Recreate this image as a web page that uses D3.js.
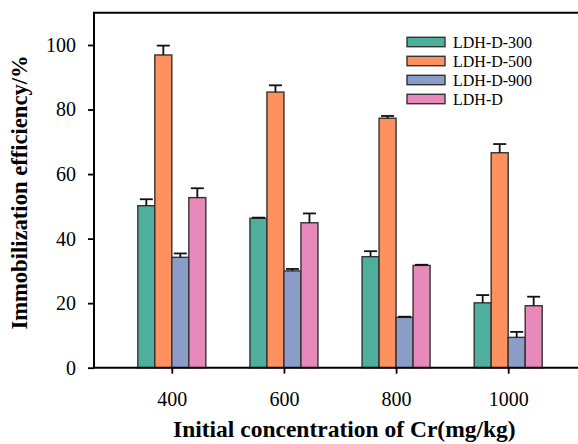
<!DOCTYPE html>
<html lang="en">
<head>
  <meta charset="UTF-8">
  <title>Immobilization efficiency vs initial Cr concentration</title>
  <script src="https://d3js.org/d3.v7.min.js"></script>
  <style>
    body { margin: 0; background: white; }
    svg { display: block; overflow: hidden; }
    text { font-family: "Liberation Serif", "Times New Roman", serif; fill: #000; }
    .axis-title { font-weight: bold; }
  </style>
</head>
<body>
  <svg width="578" height="444"></svg>
  <script>
    // data
    const concentrations = ["400", "600", "800", "1000"];
    const seriesNames = ["LDH-D-300", "LDH-D-500", "LDH-D-900", "LDH-D"];
    const ldh300 = [50.2, 46.3, 34.4, 20.1];
    const ldh500 = [96.9, 85.4, 77.3, 66.6];
    const ldh900 = [34.2, 30.0, 15.6, 9.4];
    const ldhD   = [52.7, 44.9, 31.7, 19.2];
    const err300 = [2.0, 0.2, 1.7, 2.4];
    const err500 = [2.9, 2.1, 0.7, 2.7];
    const err900 = [1.2, 0.6, 0.2, 1.7];
    const errD   = [2.9, 2.9, 0.2, 2.8];
    const yTicks = [0, 20, 40, 60, 80, 100];

    const colors = ["#4daf9c", "#fd915f", "#8c9cc8", "#e88ab9"];
    const values = [ldh300, ldh500, ldh900, ldhD];
    const errors = [err300, err500, err900, errD];

    const plot = { left: 94, top: 12.7, bottom: 367.7, right: 586 };

    const svg = d3.select("svg");

    const x = d3.scalePoint()
      .domain(concentrations)
      .range([plot.left, plot.right])
      .padding(0.694);

    const inner = d3.scaleBand()
      .domain(seriesNames)
      .range([-34, 34]);

    const y = d3.scaleLinear()
      .domain([0, 110])
      .range([plot.bottom, plot.top]);

    const rows = [];
    seriesNames.forEach((s, i) => {
      concentrations.forEach((c, j) => {
        rows.push({ series: s, conc: c, value: values[i][j], err: errors[i][j], color: colors[i] });
      });
    });

    // bars
    svg.append("g").selectAll("rect")
      .data(rows)
      .enter()
      .append("rect")
      .attr("x", d => x(d.conc) + inner(d.series))
      .attr("y", d => y(d.value))
      .attr("width", inner.bandwidth())
      .attr("height", d => y(0) - y(d.value))
      .attr("fill", d => d.color)
      .attr("stroke", "#333")
      .attr("stroke-width", 1.4);

    // error bars (upper only)
    const eb = svg.append("g").attr("stroke", "#111").attr("stroke-width", 1.8);
    rows.forEach(d => {
      const cx = x(d.conc) + inner(d.series) + inner.bandwidth() / 2;
      eb.append("line")
        .attr("x1", cx).attr("x2", cx)
        .attr("y1", y(d.value)).attr("y2", y(d.value + d.err));
      eb.append("line")
        .attr("x1", cx - 6.5).attr("x2", cx + 6.5)
        .attr("y1", y(d.value + d.err)).attr("y2", y(d.value + d.err));
    });

    // axes
    const xAxis = svg.append("g")
      .attr("transform", `translate(0,${plot.bottom})`)
      .call(d3.axisBottom(x).tickSize(6).tickPadding(18));
    xAxis.select(".domain").remove();
    xAxis.selectAll("line").attr("stroke", "#000").attr("stroke-width", 1.8);
    xAxis.selectAll("text").style("font-size", "20px");

    const yAxis = svg.append("g")
      .attr("transform", `translate(${plot.left},0)`)
      .call(d3.axisLeft(y).tickValues(yTicks).tickSize(6).tickPadding(12));
    yAxis.select(".domain").remove();
    yAxis.selectAll("line").attr("stroke", "#000").attr("stroke-width", 1.8);
    yAxis.selectAll("text").style("font-size", "20px");

    // frame: left, top, bottom
    svg.append("path")
      .attr("d", `M${plot.right},${plot.top}H${plot.left}V${plot.bottom}H${plot.right}`)
      .attr("stroke", "#000").attr("stroke-width", 2).attr("fill", "none");

    // legend
    const legend = svg.append("g");
    seriesNames.forEach((s, i) => {
      const cy = 42 + i * 19;
      legend.append("rect")
        .attr("x", 407).attr("y", cy - 4.7)
        .attr("width", 38).attr("height", 9.4)
        .attr("fill", colors[i])
        .attr("stroke", "#333").attr("stroke-width", 1.4);
      legend.append("text")
        .attr("x", 453).attr("y", cy + 5.5)
        .style("font-size", "16px")
        .text(s);
    });

    // axis titles
    svg.append("text")
      .attr("class", "axis-title")
      .attr("x", 173).attr("y", 436.5)
      .style("font-size", "23.5px")
      .text("Initial concentration of Cr(mg/kg)");

    svg.append("text")
      .attr("class", "axis-title")
      .attr("transform", "translate(26.5,192.5) rotate(-90)")
      .attr("text-anchor", "middle")
      .style("font-size", "22.6px")
      .text("Immobilization efficiency/%");
  </script>
</body>
</html>
